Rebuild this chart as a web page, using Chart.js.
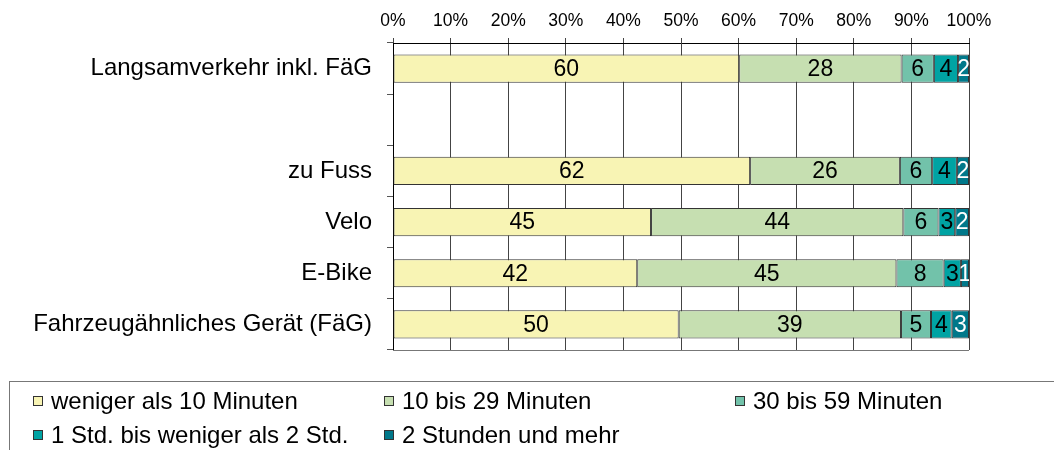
<!DOCTYPE html>
<html>
<head>
<meta charset="utf-8">
<script src="https://cdn.jsdelivr.net/npm/chart.js@4"></script>
<style>
  body { margin: 0; background: #fff; }
  #wrap { position: relative; width: 1054px; height: 450px; }
  #legend {
    position: absolute; left: 9px; top: 381px; right: 0; bottom: 0;
    border-top: 1px solid #777; border-left: 1px solid #777;
    font-family: "Liberation Sans", Arial, sans-serif; font-size: 24px; color: #000;
  }
  .item { position: absolute; display: flex; align-items: center; white-space: nowrap; height: 30px; }
  .box { width: 8px; height: 8px; border: 1px solid #333; margin-right: 8px; }
</style>
</head>
<body>
<div id="wrap">
  <canvas id="chart" width="1054" height="450"></canvas>
  <div id="legend"></div>
</div>
<script>
const categories = ['Langsamverkehr inkl. FäG', '', 'zu Fuss', 'Velo', 'E-Bike', 'Fahrzeugähnliches Gerät (FäG)']
const seriesNames = ['weniger als 10 Minuten', '10 bis 29 Minuten', '30 bis 59 Minuten', '1 Std. bis weniger als 2 Std.', '2 Stunden und mehr']
const under10 = [60.1, null, 62.0, 44.8, 42.4, 49.6]
const min10to29 = [28.2, null, 26.0, 43.8, 45.0, 38.6]
const min30to59 = [5.6, null, 5.6, 6.1, 8.2, 5.2]
const hour1to2 = [4.2, null, 4.3, 2.9, 3.0, 3.6]
const hours2plus = [1.9, null, 2.1, 2.4, 1.4, 3.0]
const colors = ['#F8F4B4', '#C6DFB1', '#72C2AA', '#00A3A3', '#00788A']
const labelColors = ['#000', '#000', '#000', '#000', '#fff']
const percentTicks = [0, 10, 20, 30, 40, 50, 60, 70, 80, 90, 100]

const seriesData = [under10, min10to29, min30to59, hour1to2, hours2plus]
const font = '"Liberation Sans", Arial, sans-serif'

// draws the rounded values in the middle of each segment
const valueLabels = {
  id: 'valueLabels',
  afterDatasetsDraw(chart) {
    const ctx = chart.ctx
    const area = chart.chartArea
    ctx.save()
    ctx.beginPath()
    ctx.rect(area.left, area.top, area.right - area.left, area.bottom - area.top)
    ctx.clip()
    ctx.font = '23px ' + font
    ctx.textAlign = 'center'
    ctx.textBaseline = 'middle'
    chart.data.datasets.forEach((ds, i) => {
      chart.getDatasetMeta(i).data.forEach((bar, j) => {
        const v = ds.data[j]
        if (v === null) return
        ctx.fillStyle = labelColors[i]
        ctx.fillText(Math.round(v), (bar.x + bar.base) / 2, bar.y + 1)
      })
    })
    ctx.restore()
  }
}

// bottom edge of the plot area
const bottomLine = {
  id: 'bottomLine',
  afterDraw(chart) {
    const { ctx, chartArea } = chart
    ctx.save()
    ctx.strokeStyle = '#777'
    ctx.lineWidth = 1
    ctx.beginPath()
    ctx.moveTo(chartArea.left, Math.round(chartArea.bottom) + 0.5)
    ctx.lineTo(chartArea.right, Math.round(chartArea.bottom) + 0.5)
    ctx.stroke()
    ctx.restore()
  }
}

new Chart(document.getElementById('chart'), {
  type: 'bar',
  data: {
    labels: categories,
    datasets: seriesData.map((d, i) => ({
      label: seriesNames[i],
      data: d,
      backgroundColor: colors[i],
      borderColor: '#333',
      borderWidth: 1,
      borderSkipped: false,
      barPercentage: 0.55,
      categoryPercentage: 1
    }))
  },
  options: {
    indexAxis: 'y',
    responsive: false,
    animation: false,
    layout: { padding: { top: 0, right: 85, bottom: 100, left: 0 } },
    plugins: { legend: { display: false }, tooltip: { enabled: false } },
    scales: {
      x: {
        position: 'top',
        stacked: true,
        min: 0,
        max: 100,
        afterBuildTicks: scale => { scale.ticks = percentTicks.map(v => ({ value: v })) },
        afterFit: scale => { scale.height = 43 },
        ticks: {
          callback: v => v + '%',
          color: '#000',
          font: { family: font, size: 17.5 },
          padding: 6,
          maxRotation: 0
        },
        grid: { color: '#444', lineWidth: 1, tickLength: 5 },
        border: { color: '#000', width: 1 }
      },
      y: {
        stacked: true,
        afterFit: scale => { scale.width = 393 },
        ticks: { color: '#000', font: { family: font, size: 24 }, padding: 15 },
        grid: { offset: true, drawOnChartArea: false, tickLength: 6, color: '#555' },
        border: { color: '#000', width: 1 }
      }
    }
  },
  plugins: [valueLabels, bottomLine]
})

// legend in three columns, two rows
const legend = document.getElementById('legend')
seriesNames.forEach((name, i) => {
  const item = document.createElement('div')
  item.className = 'item'
  item.style.left = (23 + (i % 3) * 351) + 'px'
  item.style.top = (4 + Math.floor(i / 3) * 34) + 'px'
  const box = document.createElement('span')
  box.className = 'box'
  box.style.background = colors[i]
  item.appendChild(box)
  item.appendChild(document.createTextNode(name))
  legend.appendChild(item)
})
</script>
</body>
</html>
